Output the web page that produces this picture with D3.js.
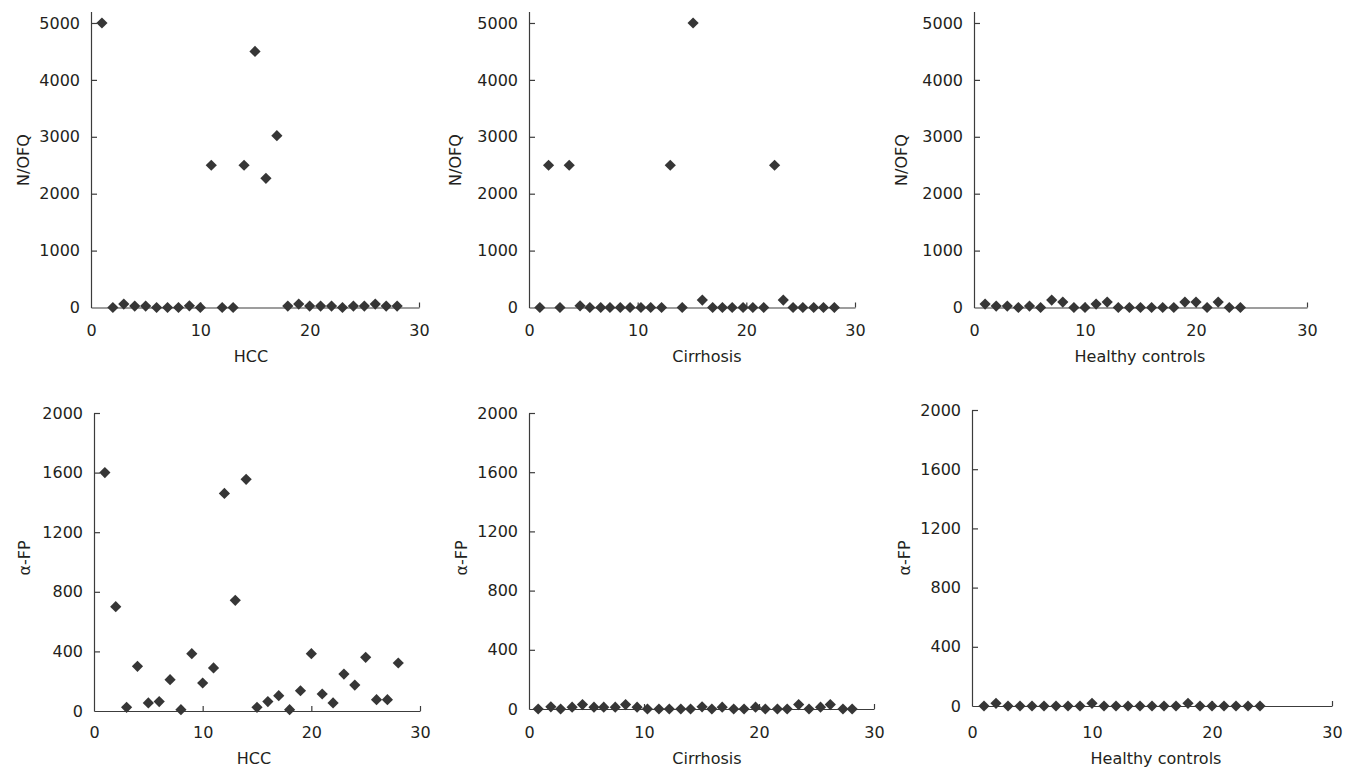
<!DOCTYPE html>
<html>
<head>
<meta charset="utf-8">
<script src="https://cdn.jsdelivr.net/npm/d3@7"></script>
<style>
  html, body { margin: 0; padding: 0; background: #fff; }
  svg { display: block; }
</style>
</head>
<body>
<svg id="chart" width="1352" height="769"></svg>
<script>
// ---------- data ----------
const xTicks = [0, 10, 20, 30];
const nofqTicks = [0, 1000, 2000, 3000, 4000, 5000];
const afpTicks = [0, 400, 800, 1200, 1600, 2000];

const hccNofqX = [1,2,3,4,5,6,7,8,9,10,11,12,13,14,15,16,17,18,19,20,21,22,23,24,25,26,27,28];
const hccNofq  = [5000,0,60,25,25,0,0,0,30,0,2500,0,0,2500,4500,2270,3020,25,60,25,25,25,0,25,25,60,25,25];

const cirrNofqX = [1.0,1.8,2.85,3.7,4.7,5.6,6.6,7.45,8.4,9.3,10.3,11.2,12.2,13.0,14.1,15.1,15.95,16.9,17.8,18.7,19.7,20.6,21.6,22.6,23.4,24.3,25.2,26.2,27.1,28.1];
const cirrNofq  = [0,2500,0,2500,30,0,0,0,0,0,0,0,0,2500,0,5000,130,0,0,0,0,0,0,2500,130,0,0,0,0,0];

const healthyNofqX = [1,2,3,4,5,6,7,8,9,10,11,12,13,14,15,16,17,18,19,20,21,22,23,24];
const healthyNofq  = [60,25,25,0,25,0,130,95,0,0,60,95,0,0,0,0,0,0,95,95,0,95,0,0];

const hccAfpX = [1,2,3,4,5,6,7,8,9,10,11,12,13,14,15,16,17,18,19,20,21,22,23,24,25,26,27,28];
const hccAfp  = [1600,700,25,300,54,63,210,9,385,188,289,1460,743,1555,25,63,103,9,136,385,114,54,248,174,360,76,76,322];

const cirrAfpX = [0.8,1.9,2.75,3.75,4.65,5.65,6.5,7.5,8.4,9.4,10.3,11.3,12.2,13.2,14.05,15.05,15.9,16.8,17.8,18.7,19.7,20.55,21.6,22.45,23.45,24.35,25.35,26.2,27.3,28.1];
const cirrAfp  = [0,15,0,12,30,12,12,12,30,12,0,0,0,0,0,15,0,12,0,0,12,0,0,0,30,0,12,30,0,0];

const healthyAfpX = [1,2,3,4,5,6,7,8,9,10,11,12,13,14,15,16,17,18,19,20,21,22,23,24];
const healthyAfp  = [0,18,0,0,0,0,0,0,0,18,0,0,0,0,0,0,0,18,0,0,0,0,0,0];

const groupLabels = ["HCC", "Cirrhosis", "Healthy controls"];
const nofqLabel = "N/OFQ";
const afpLabel = "\u03b1-FP";

// ---------- layout ----------
const FONT = "'DejaVu Sans', Verdana, sans-serif";
const TEXT = "#231f20";
const AXIS = "#3c3c3c";
const MARK = "#363636";

const panels = [
  {xs: hccNofqX, ys: hccNofq, ticks: nofqTicks, ymax: 5200, xlab: groupLabels[0], ylab: nofqLabel,
   x0: 91, x1: 419, y0: 307.5, yTop: 11.6, ylabX: 23, ylabY: 160, xlabX: 251, xlabY: 362, xTickTop: 325},
  {xs: cirrNofqX, ys: cirrNofq, ticks: nofqTicks, ymax: 5200, xlab: groupLabels[1], ylab: nofqLabel,
   x0: 529, x1: 855, y0: 307.5, yTop: 11.6, ylabX: 455, ylabY: 160, xlabX: 707, xlabY: 362, xTickTop: 325},
  {xs: healthyNofqX, ys: healthyNofq, ticks: nofqTicks, ymax: 5200, xlab: groupLabels[2], ylab: nofqLabel,
   x0: 974, x1: 1307, y0: 307.5, yTop: 11.6, ylabX: 901, ylabY: 160, xlabX: 1140, xlabY: 362, xTickTop: 325},
  {xs: hccAfpX, ys: hccAfp, ticks: afpTicks, ymax: 2000, xlab: groupLabels[0], ylab: afpLabel,
   x0: 94, x1: 420, y0: 711, yTop: 413, ylabX: 24, ylabY: 558, xlabX: 254, xlabY: 764, xTickTop: 727},
  {xs: cirrAfpX, ys: cirrAfp, ticks: afpTicks, ymax: 2000, xlab: groupLabels[1], ylab: afpLabel,
   x0: 529, x1: 874, y0: 709, yTop: 413, ylabX: 461, ylabY: 558, xlabX: 707, xlabY: 764, xTickTop: 727},
  {xs: healthyAfpX, ys: healthyAfp, ticks: afpTicks, ymax: 2000, xlab: groupLabels[2], ylab: afpLabel,
   x0: 972, x1: 1332, y0: 706, yTop: 410, ylabX: 904, ylabY: 558, xlabX: 1156, xlabY: 764, xTickTop: 727}
];

const svg = d3.select("#chart");
const diamond = "M0,-5.6L5.6,0L0,5.6L-5.6,0Z";

panels.forEach(p => {
  const x = d3.scaleLinear().domain([0, 30]).range([p.x0, p.x1]);
  const y = d3.scaleLinear().domain([0, p.ymax]).range([p.y0, p.yTop]);
  const g = svg.append("g");

  // x axis
  const gx = g.append("g")
    .attr("transform", `translate(0,${p.y0})`)
    .call(d3.axisBottom(x).tickValues(xTicks).tickSize(-5).tickSizeOuter(0)
      .tickPadding(p.xTickTop - p.y0).tickFormat(d3.format("d")));
  // y axis
  const gy = g.append("g")
    .attr("transform", `translate(${p.x0},0)`)
    .call(d3.axisLeft(y).tickValues(p.ticks).tickSize(-6).tickSizeOuter(0)
      .tickPadding(11).tickFormat(d3.format("d")));

  [gx, gy].forEach(ax => {
    ax.select(".domain").attr("stroke", AXIS).attr("stroke-width", 1.2);
    ax.selectAll(".tick line").attr("stroke", AXIS).attr("stroke-width", 1.2);
    ax.selectAll(".tick text").attr("fill", TEXT)
      .style("font-family", FONT).style("font-size", "16px");
  });
  gx.selectAll(".tick").filter(d => d === 0).select("line").remove();
  gy.selectAll(".tick").filter(d => d === 0).select("line").remove();

  // axis titles
  g.append("text")
    .attr("x", p.xlabX).attr("y", p.xlabY)
    .attr("text-anchor", "middle")
    .attr("fill", TEXT).style("font-family", FONT).style("font-size", "16px")
    .text(p.xlab);
  g.append("text")
    .attr("transform", `translate(${p.ylabX},${p.ylabY}) rotate(-90)`)
    .attr("text-anchor", "middle").attr("dy", "0.35em")
    .attr("fill", TEXT).style("font-family", FONT).style("font-size", "16px")
    .text(p.ylab);

  // markers
  g.append("g").selectAll("path")
    .data(p.xs.map((xv, i) => [xv, p.ys[i]]))
    .join("path")
    .attr("d", diamond)
    .attr("transform", d => `translate(${x(d[0])},${y(d[1])})`)
    .attr("fill", MARK);
});
</script>
</body>
</html>
